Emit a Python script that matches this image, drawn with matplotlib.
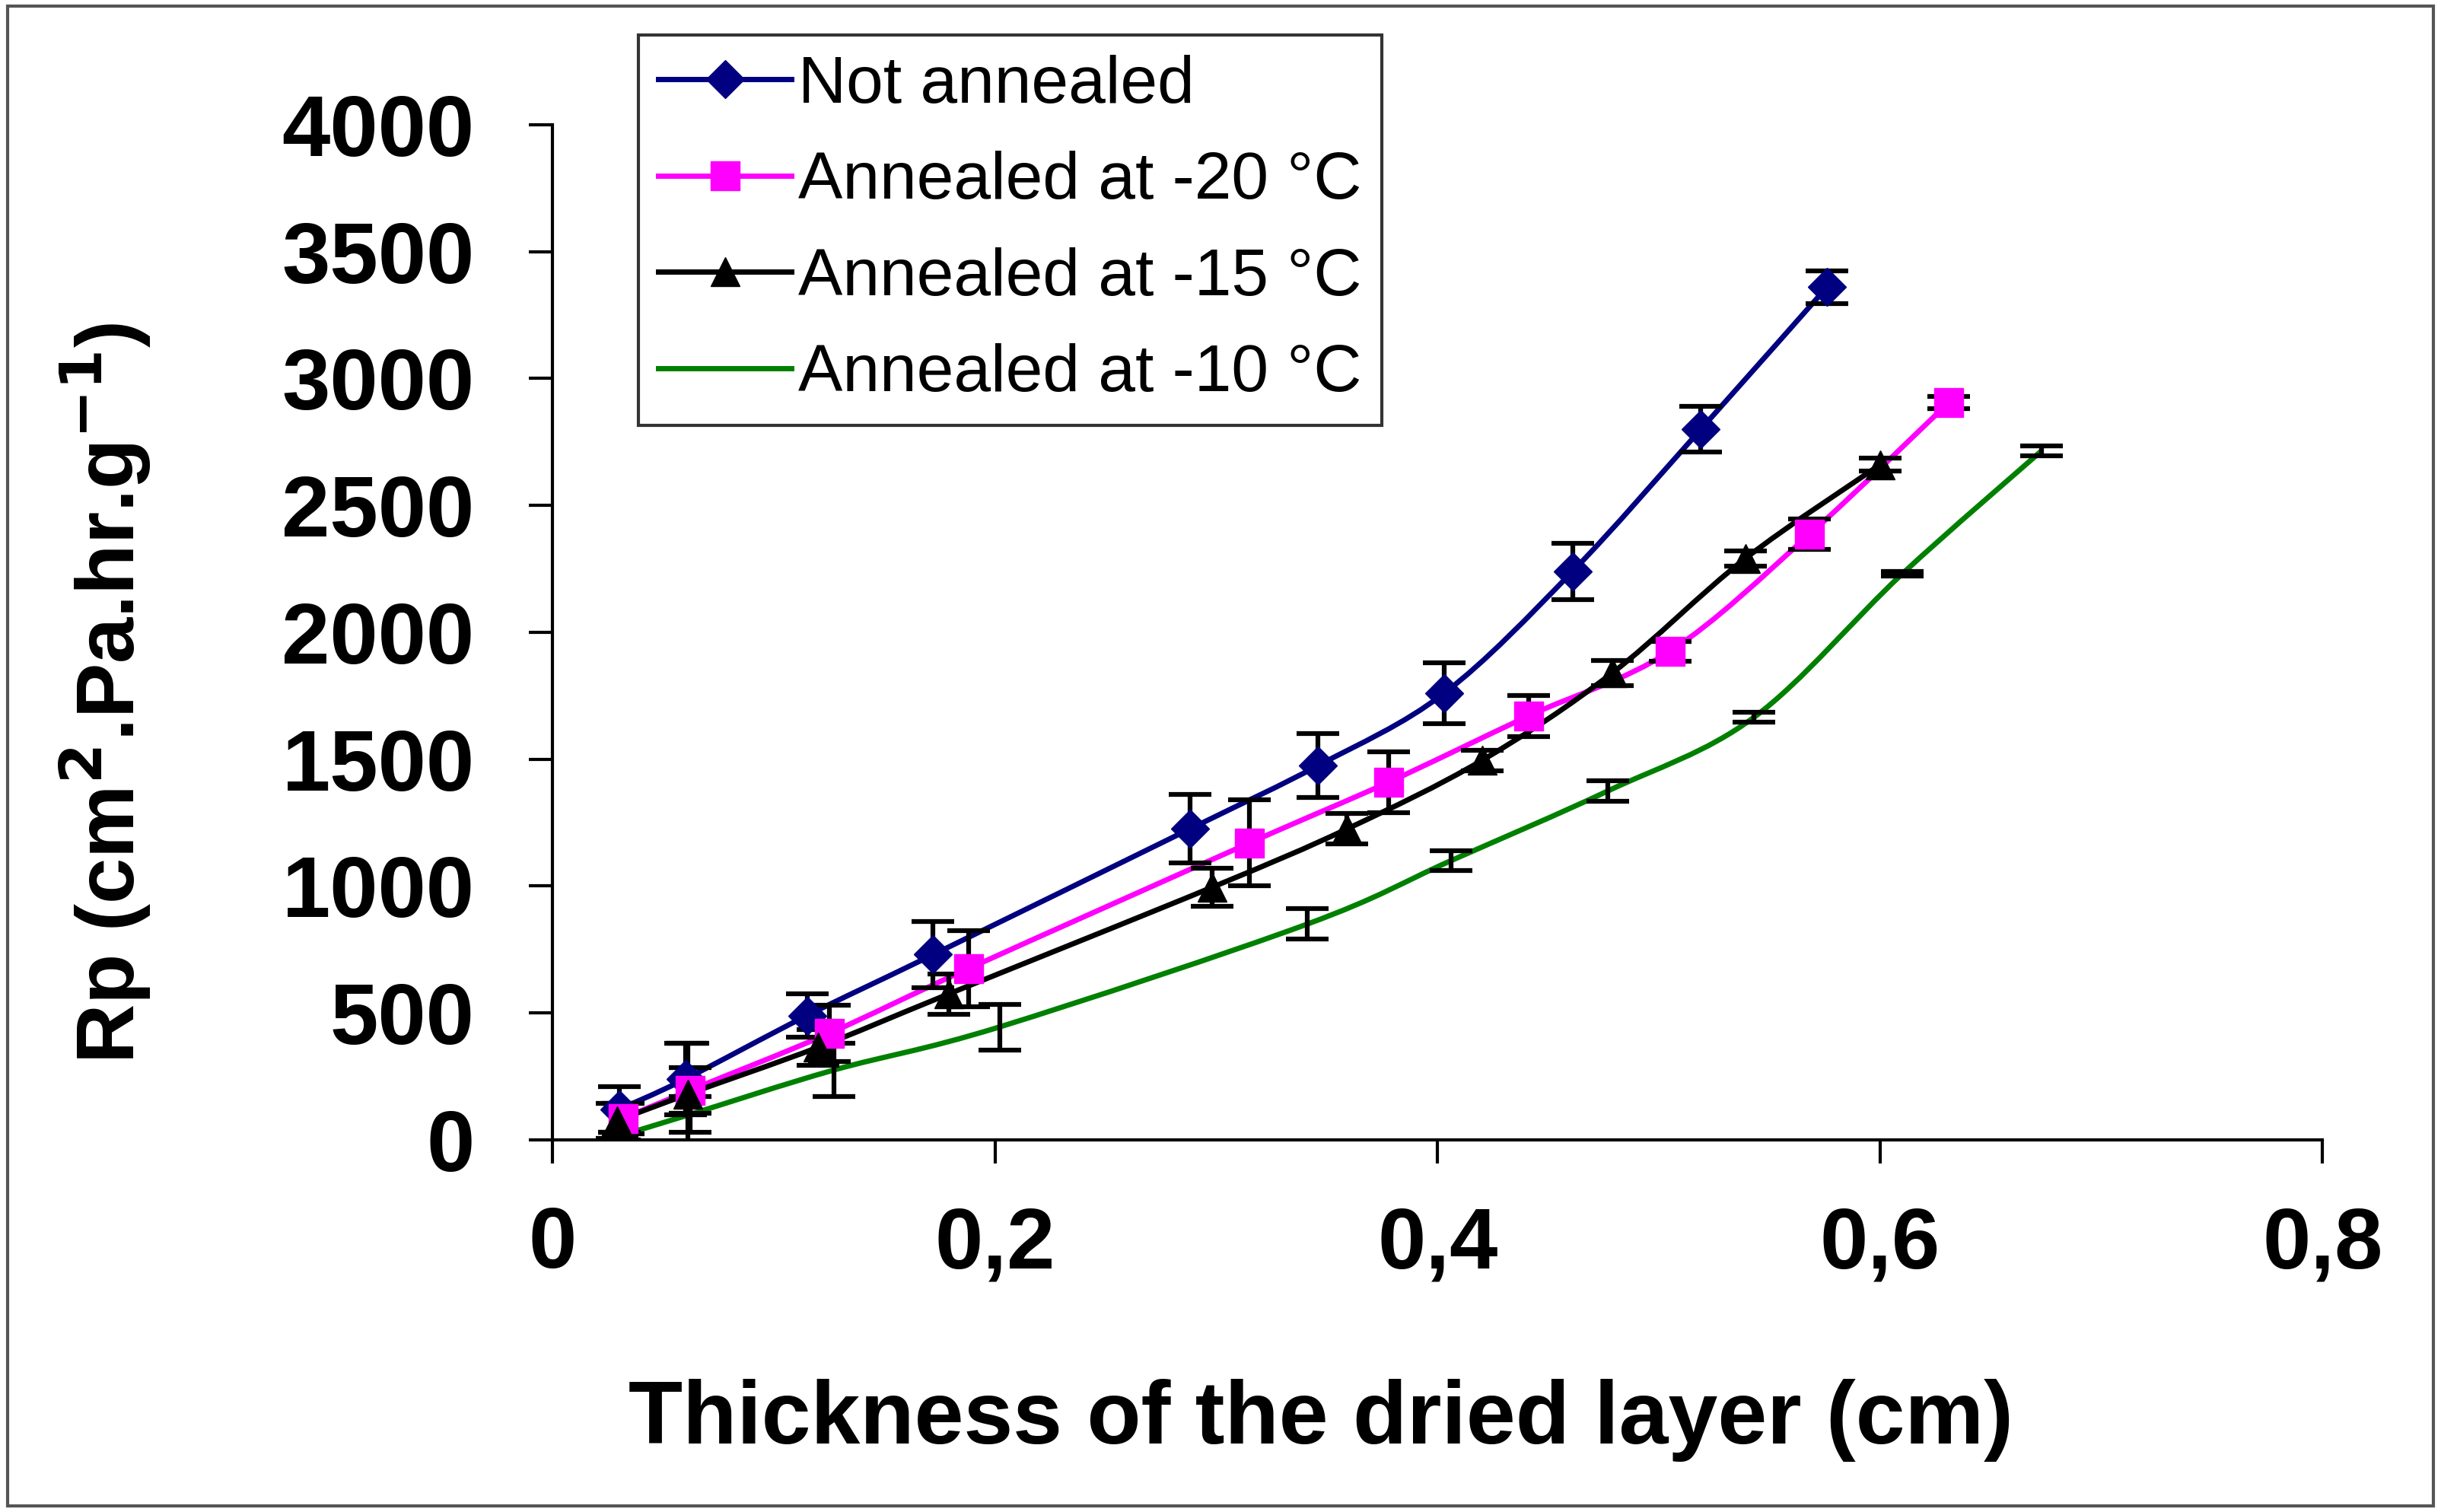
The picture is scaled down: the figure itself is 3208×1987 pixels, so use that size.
import matplotlib
matplotlib.use('Agg')
import matplotlib.pyplot as plt
from matplotlib.path import Path
from matplotlib.patches import PathPatch, Rectangle
from matplotlib.lines import Line2D

# data
x_not = [0.030, 0.060, 0.115, 0.172, 0.288, 0.346, 0.403, 0.461, 0.519, 0.576]
y_not = [120, 240, 490, 730, 1225, 1475, 1760, 2240, 2800, 3360]
e_not = [90, 140, 85, 130, 135, 125, 120, 110, 90, 65]

x_20 = [0.032, 0.062, 0.125, 0.188, 0.315, 0.378, 0.441, 0.505, 0.568, 0.631]
y_20 = [85, 195, 420, 675, 1170, 1410, 1670, 1925, 2385, 2905]
e_20 = [60, 90, 110, 150, 170, 120, 80, 40, 60, 25]

x_15 = [0.029, 0.061, 0.120, 0.179, 0.298, 0.359, 0.420, 0.479, 0.539, 0.600]
y_15 = [75, 180, 365, 575, 995, 1225, 1495, 1840, 2290, 2660]
e_15 = [70, 200, 70, 80, 75, 60, 40, 50, 30, 25]

x_10 = [0.030, 0.062, 0.127, 0.202, 0.341, 0.406, 0.477, 0.543, 0.610, 0.673]
y_10 = [15, 100, 275, 445, 850, 1100, 1375, 1665, 2230, 2715]
e_10 = [15, 70, 105, 90, 60, 40, 40, 20, 10, 20]

series = [
    ('Not annealed', x_not, y_not, e_not, '#000080', 'D', 25),
    ('Annealed at -20 °C', x_20, y_20, e_20, '#FF00FF', 's', 28),
    ('Annealed at -15 °C', x_15, y_15, e_15, 'black', '^', 28),
    ('Annealed at -10 °C', x_10, y_10, e_10, '#008000', None, 0),
]

x_ticks = [0, 0.2, 0.4, 0.6, 0.8]
x_ticklabels = ['0', '0,2', '0,4', '0,6', '0,8']
y_ticks = [0, 500, 1000, 1500, 2000, 2500, 3000, 3500, 4000]


def smooth_path(xs, ys):
    # catmull-rom curve drawn as bezier segments (like the smoothed excel line)
    pts = list(zip(xs, ys))
    n = len(pts)
    verts = [pts[0]]
    codes = [Path.MOVETO]
    for i in range(n - 1):
        p0 = pts[i - 1] if i > 0 else pts[i]
        p1 = pts[i]
        p2 = pts[i + 1]
        p3 = pts[i + 2] if i + 2 < n else pts[i + 1]
        c1 = (p1[0] + (p2[0] - p0[0]) / 6, p1[1] + (p2[1] - p0[1]) / 6)
        c2 = (p2[0] - (p3[0] - p1[0]) / 6, p2[1] - (p3[1] - p1[1]) / 6)
        verts += [c1, c2, p2]
        codes += [Path.CURVE4] * 3
    return Path(verts, codes)


plt.rcParams['font.family'] = ['Liberation Sans', 'DejaVu Sans']

fig = plt.figure(figsize=(32.08, 19.87), dpi=100)
ax = fig.add_axes([0.2264, 0.2461, 0.7251, 0.6715])

handles = []
for name, xs, ys, es, col, mk, ms in series:
    ax.add_patch(PathPatch(smooth_path(xs, ys), facecolor='none', edgecolor=col, lw=5, zorder=2))
    ax.errorbar(xs, ys, yerr=es, fmt='none', ecolor='black', elinewidth=4.5, capsize=20, capthick=4.5, zorder=3)
    if mk:
        ax.plot(xs, ys, linestyle='none', marker=mk, ms=ms, color=col, zorder=4)
    handles.append(Line2D([], [], color=col, lw=5, marker=mk, ms=ms if mk else 0))

ax.set_xlim(0, 0.8)
ax.set_ylim(0, 4000)
ax.set_xticks(x_ticks)
ax.set_xticklabels(x_ticklabels)
ax.set_yticks(y_ticks)
for s in ['top', 'right']:
    ax.spines[s].set_visible(False)
for s in ['left', 'bottom']:
    ax.spines[s].set_linewidth(3)
ax.tick_params(direction='out', length=22, width=3, labelsize=82)
for lab in ax.get_xticklabels() + ax.get_yticklabels():
    lab.set_fontweight('bold')
ax.tick_params(axis='y', pad=52)
ax.tick_params(axis='x', pad=40)

ax.set_ylabel('Rp (cm$^{\\mathbf{2}}$.Pa.hr.g$^{\\mathbf{-1}}$)', fontsize=78, fontweight='bold')
ax.yaxis.set_label_coords(-0.226, 0.44)
ax.set_xlabel('Thickness of the dried layer (cm)', fontsize=84, fontweight='bold')
ax.xaxis.set_label_coords(0.434, -0.235)

leg = fig.legend(handles, [s[0] for s in series], loc='upper left', bbox_to_anchor=(0.2615, 0.977),
                 fontsize=63, frameon=True, fancybox=False, borderpad=0.3, labelspacing=0.52,
                 handlelength=2.0, handletextpad=0.1, borderaxespad=0)
leg.get_frame().set_edgecolor('black')
leg.get_frame().set_linewidth(3)

fig.patches.append(Rectangle((0.003, 0.004), 0.994, 0.992, transform=fig.transFigure,
                             fill=False, edgecolor='#555555', lw=3))

fig.savefig('out.png', dpi=100)
